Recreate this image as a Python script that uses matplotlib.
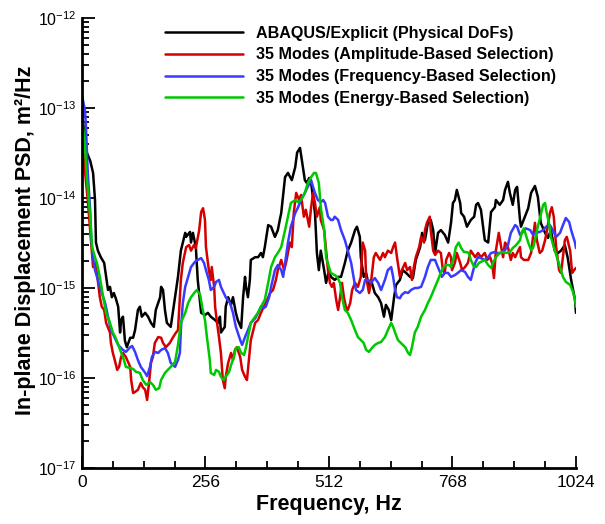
"""
psd_compare.py — In-plane displacement PSD: physical DoFs vs. 35-mode reduced models.
"""

import numpy as np
import matplotlib
matplotlib.use('Agg')
import matplotlib.pyplot as plt
from matplotlib.ticker import FixedLocator, MultipleLocator, LogFormatterMathtext, NullFormatter

plt.rcParams['font.family'] = ['Liberation Sans', 'DejaVu Sans']
plt.rcParams['mathtext.default'] = 'regular'

# ── PSD data (Hz, m^2/Hz) ─────────────────────────────────────────────────────
freq_abaqus = [
    0, 8, 17, 23, 27, 29, 33, 39, 46, 50, 54, 58, 62, 66, 70, 75, 79, 81, 85, 89,
    93, 100, 106, 110, 116, 120, 124, 131, 137, 143, 149, 153, 162, 164, 168, 172, 176, 184, 193, 199,
    205, 214, 216, 224, 226, 230, 236, 240, 247, 255, 261, 267, 276, 282, 286, 288, 296, 298, 303, 309,
    313, 319, 323, 330, 334, 338, 340, 344, 348, 350, 359, 365, 371, 375, 379, 386, 392, 400, 406, 410,
    413, 421, 427, 435, 442, 446, 452, 456, 462, 466, 471, 475, 483, 487, 491, 495, 502, 506, 512, 516,
    524, 531, 537, 545, 551, 558, 566, 570, 576, 578, 584, 589, 595, 599, 607, 614, 620, 626, 630, 636,
    641, 647, 651, 659, 665, 672, 680, 686, 692, 701, 705, 711, 717, 723, 728, 732, 738, 744, 752, 759,
    765, 769, 773, 777, 784, 786, 792, 798, 806, 813, 817, 821, 827, 835, 842, 848, 856, 858, 866, 873,
    877, 883, 887, 893, 898, 902, 908, 910, 918, 925, 931, 939, 945, 951, 960, 966, 972, 980, 987, 993,
    1001, 1007, 1014, 1022, 1024,
]
psd_abaqus = [
    9.5e-14, 3.4e-14, 2.6e-14, 1.9e-14, 9.5e-15, 3.2e-15, 2.6e-15, 2.2e-15, 1.9e-15, 1.33e-15,
    9.5e-16, 1.03e-15, 7.9e-16, 8.8e-16, 7.7e-16, 6.2e-16, 3.2e-16, 4.4e-16, 4.8e-16, 2.6e-16,
    2.2e-16, 2.8e-16, 2.8e-16, 3.4e-16, 5.7e-16, 6.2e-16, 4.8e-16, 5.3e-16, 4.8e-16, 4.1e-16,
    3.7e-16, 5.7e-16, 7.9e-16, 1.03e-15, 9.5e-16, 5.7e-16, 4.1e-16, 3.7e-16, 7.9e-16, 1.33e-15,
    2.6e-15, 4.1e-15, 3.7e-15, 4.2e-15, 3.2e-15, 4.1e-15, 2.85e-15, 1.23e-15, 5.3e-16, 5.0e-16,
    5.3e-16, 4.8e-16, 4.4e-16, 4.1e-16, 4.8e-16, 3.2e-16, 3.7e-16, 6.2e-16, 7.9e-16, 6.5e-16,
    7.9e-16, 5.3e-16, 4.4e-16, 3.6e-16, 7.9e-16, 1.33e-15, 1.03e-15, 7.9e-16, 1.23e-15, 2.05e-15,
    2.2e-15, 2.2e-15, 2.45e-15, 2.2e-15, 2.85e-15, 5.0e-15, 4.8e-15, 3.7e-15, 4.4e-15, 5.7e-15,
    6.8e-15, 1.71e-14, 1.9e-14, 1.58e-14, 2.2e-14, 3.2e-14, 3.6e-14, 2.6e-14, 1.58e-14, 1.47e-14,
    1.67e-14, 1.47e-14, 6.8e-15, 2.45e-15, 1.58e-15, 2.6e-15, 1.58e-15, 1.14e-15, 1.58e-15, 1.33e-15,
    1.23e-15, 1.33e-15, 1.33e-15, 1.9e-15, 2.6e-15, 3.2e-15, 4.4e-15, 4.8e-15, 3.7e-15, 2.2e-15,
    1.33e-15, 1.47e-15, 1.03e-15, 1.23e-15, 8.8e-16, 7.9e-16, 6.8e-16, 4.8e-16, 6.5e-16, 5.7e-16,
    4.4e-16, 7.9e-16, 1.08e-15, 1.23e-15, 1.58e-15, 1.47e-15, 1.33e-15, 1.29e-15, 2.05e-15, 2.85e-15,
    4.1e-15, 3.4e-15, 5.3e-15, 5.7e-15, 4.4e-15, 2.45e-15, 4.1e-15, 4.4e-15, 3.9e-15, 3.2e-15,
    5.3e-15, 8.8e-15, 9.5e-15, 1.23e-14, 8.8e-15, 6.8e-15, 6.2e-15, 4.8e-15, 5.7e-15, 6.2e-15,
    8.4e-15, 8.8e-15, 7.4e-15, 3.4e-15, 3.2e-15, 7.0e-15, 7.9e-15, 9.5e-15, 8.4e-15, 9.5e-15,
    1.23e-14, 1.51e-14, 1.14e-14, 8.4e-15, 1.23e-14, 1.33e-14, 5.7e-15, 4.8e-15, 6.2e-15, 7.7e-15,
    1.14e-14, 1.36e-14, 1.03e-14, 5.3e-15, 4.1e-15, 3.6e-15, 4.4e-15, 2.6e-15, 2.45e-15, 2.6e-15,
    3.0e-15, 2.15e-15, 1.23e-15, 7.4e-16, 5.3e-16,
]

freq_amplitude = [
    0, 6, 12, 19, 23, 27, 31, 37, 41, 46, 50, 58, 60, 64, 68, 73, 77, 81, 85, 91,
    100, 102, 106, 110, 116, 122, 126, 131, 135, 139, 143, 147, 151, 158, 164, 168, 174, 182, 189, 195,
    199, 205, 209, 216, 222, 226, 232, 236, 243, 247, 251, 255, 257, 263, 267, 269, 274, 276, 280, 284,
    288, 292, 296, 298, 303, 309, 313, 317, 321, 328, 332, 338, 342, 346, 350, 354, 359, 365, 371, 377,
    381, 390, 396, 402, 406, 413, 419, 423, 431, 435, 439, 444, 450, 454, 460, 464, 471, 475, 479, 483,
    487, 493, 495, 502, 506, 510, 514, 518, 522, 527, 531, 535, 539, 543, 547, 551, 556, 560, 566, 572,
    578, 582, 587, 589, 595, 599, 605, 609, 618, 624, 628, 634, 641, 645, 649, 653, 659, 663, 670, 674,
    680, 684, 688, 692, 699, 703, 709, 711, 715, 721, 723, 728, 732, 738, 744, 748, 752, 755, 761, 765,
    767, 773, 777, 784, 788, 794, 800, 806, 815, 821, 827, 835, 840, 846, 850, 854, 858, 864, 869, 873,
    877, 883, 889, 893, 898, 902, 908, 910, 916, 925, 931, 935, 939, 943, 949, 954, 960, 964, 970, 974,
    978, 983, 989, 993, 997, 1001, 1005, 1012, 1016, 1020, 1024,
]
psd_amplitude = [
    4.4e-14, 2.05e-14, 9.5e-15, 3.2e-15, 1.71e-15, 1.9e-15, 1.47e-15, 7.9e-16, 6.2e-16, 5.7e-16,
    4.1e-16, 3.2e-16, 2.45e-16, 1.9e-16, 1.58e-16, 1.23e-16, 1.33e-16, 1.71e-16, 1.9e-16, 1.71e-16,
    1.33e-16, 9.5e-17, 6.8e-17, 7.0e-17, 7.4e-17, 8.8e-17, 7.9e-17, 7.4e-17, 5.7e-17, 8.8e-17,
    1.47e-16, 1.71e-16, 2.45e-16, 2.85e-16, 2.8e-16, 2.45e-16, 2.2e-16, 2.45e-16, 2.85e-16, 3.2e-16,
    3.4e-16, 1.23e-15, 1.9e-15, 2.85e-15, 3.0e-15, 2.6e-15, 3.0e-15, 2.78e-15, 4.4e-15, 7.0e-15,
    7.7e-15, 5.7e-15, 2.85e-15, 1.58e-15, 1.23e-15, 1.71e-15, 1.03e-15, 6.2e-16, 4.1e-16, 2.85e-16,
    1.9e-16, 9.5e-17, 7.7e-17, 1.03e-16, 1.47e-16, 1.9e-16, 1.58e-16, 2.05e-16, 2.2e-16, 1.71e-16,
    1.23e-16, 1.03e-16, 9.5e-17, 1.58e-16, 2.64e-16, 3.2e-16, 4.1e-16, 4.4e-16, 5.3e-16, 6.2e-16,
    6.8e-16, 8.8e-16, 9.5e-16, 1.23e-15, 1.58e-15, 2.05e-15, 1.58e-15, 1.9e-15, 3.2e-15, 2.85e-15,
    6.8e-15, 1.14e-14, 9.5e-15, 1.08e-14, 6.2e-15, 7.4e-15, 4.8e-15, 7.9e-15, 1.14e-14, 8.8e-15,
    6.2e-15, 7.9e-15, 5.7e-15, 4.4e-15, 2.6e-15, 1.58e-15, 1.14e-15, 1.03e-15, 1.14e-15, 7.4e-16,
    5.7e-16, 7.9e-16, 1.14e-15, 7.9e-16, 6.2e-16, 5.7e-16, 6.8e-16, 9.5e-16, 1.14e-15, 1.03e-15,
    1.33e-15, 3.2e-15, 2.6e-15, 1.33e-15, 8.8e-16, 1.14e-15, 2.2e-15, 2.45e-15, 2.05e-15, 2.45e-15,
    2.2e-15, 2.6e-15, 2.45e-15, 2.85e-15, 3.2e-15, 2.2e-15, 1.33e-15, 1.58e-15, 1.9e-15, 1.58e-15,
    1.71e-15, 1.23e-15, 1.71e-15, 2.2e-15, 2.85e-15, 3.7e-15, 3.2e-15, 4.4e-15, 5.3e-15, 6.2e-15,
    4.4e-15, 2.6e-15, 2.33e-15, 2.6e-15, 2.45e-15, 1.58e-15, 1.47e-15, 2.05e-15, 2.45e-15, 2.2e-15,
    1.58e-15, 1.9e-15, 2.45e-15, 1.9e-15, 1.58e-15, 1.71e-15, 1.9e-15, 2.6e-15, 2.2e-15, 2.45e-15,
    2.2e-15, 2.45e-15, 2.05e-15, 2.2e-15, 1.9e-15, 1.29e-15, 2.6e-15, 4.1e-15, 2.85e-15, 2.2e-15,
    3.2e-15, 2.85e-15, 2.05e-15, 2.45e-15, 2.2e-15, 2.45e-15, 2.85e-15, 2.2e-15, 2.05e-15, 2.05e-15,
    2.45e-15, 3.7e-15, 5.3e-15, 3.4e-15, 2.45e-15, 2.6e-15, 3.4e-15, 4.4e-15, 6.8e-15, 7.9e-15,
    6.2e-15, 2.85e-15, 1.58e-15, 1.47e-15, 2.2e-15, 3.4e-15, 3.7e-15, 2.6e-15, 1.47e-15, 1.58e-15,
    1.67e-15,
]

freq_frequency = [
    0, 6, 8, 12, 17, 19, 23, 27, 33, 39, 48, 54, 60, 68, 75, 85, 91, 100, 104, 110,
    116, 122, 131, 135, 141, 145, 151, 158, 164, 172, 178, 184, 193, 199, 203, 205, 209, 214, 220, 226,
    234, 240, 247, 253, 257, 263, 267, 274, 278, 284, 288, 294, 298, 307, 313, 319, 328, 332, 338, 344,
    350, 359, 365, 371, 377, 381, 388, 392, 400, 406, 413, 417, 421, 427, 433, 442, 448, 454, 462, 468,
    475, 479, 483, 489, 495, 500, 504, 510, 516, 520, 524, 531, 537, 545, 551, 558, 564, 568, 576, 582,
    587, 593, 599, 607, 614, 620, 628, 634, 641, 645, 649, 653, 659, 663, 670, 676, 682, 690, 696, 703,
    711, 717, 723, 732, 736, 742, 746, 752, 759, 765, 773, 779, 786, 794, 800, 806, 815, 821, 827, 835,
    842, 848, 856, 862, 869, 877, 883, 889, 898, 902, 908, 914, 920, 929, 935, 941, 949, 956, 962, 970,
    976, 983, 991, 997, 1003, 1010, 1014, 1022, 1024,
]
psd_frequency = [
    1.39e-13, 9.5e-14, 6.8e-14, 1.9e-14, 7.4e-15, 3.7e-15, 2.2e-15, 1.58e-15, 1.23e-15, 9.5e-16,
    6.8e-16, 4.8e-16, 3.4e-16, 2.8e-16, 2.33e-16, 2.05e-16, 1.95e-16, 2.2e-16, 2.27e-16, 1.95e-16,
    1.58e-16, 1.33e-16, 1.14e-16, 1.05e-16, 1.33e-16, 1.71e-16, 1.95e-16, 1.9e-16, 2.05e-16, 2.15e-16,
    1.9e-16, 1.47e-16, 1.33e-16, 1.58e-16, 1.9e-16, 3.4e-16, 6.8e-16, 1.03e-15, 1.33e-15, 1.71e-15,
    1.95e-15, 2.05e-15, 2.15e-15, 1.9e-15, 1.58e-15, 1.23e-15, 9.5e-16, 1.03e-15, 1.17e-15, 1.23e-15,
    1.03e-15, 8.8e-16, 7.9e-16, 6.8e-16, 5.3e-16, 3.7e-16, 2.64e-16, 2.33e-16, 2.85e-16, 3.4e-16,
    4.1e-16, 4.6e-16, 5.3e-16, 6.2e-16, 6.0e-16, 6.2e-16, 7.9e-16, 1.03e-15, 1.58e-15, 1.8e-15,
    1.58e-15, 1.33e-15, 1.9e-15, 3.2e-15, 4.8e-15, 6.8e-15, 7.9e-15, 9.5e-15, 1.14e-14, 1.33e-14,
    1.58e-14, 1.33e-14, 1.14e-14, 9.5e-15, 9.0e-15, 9.5e-15, 8.8e-15, 6.2e-15, 5.7e-15, 5.7e-15,
    6.2e-15, 5.7e-15, 4.4e-15, 3.4e-15, 2.6e-15, 1.9e-15, 1.23e-15, 9.5e-16, 8.8e-16, 9.5e-16,
    1.23e-15, 1.23e-15, 1.14e-15, 1.29e-15, 1.14e-15, 9.5e-16, 1.23e-15, 1.58e-15, 1.71e-15, 1.33e-15,
    9.5e-16, 7.9e-16, 7.7e-16, 8.4e-16, 9.0e-16, 8.8e-16, 9.5e-16, 1.0e-15, 1.0e-15, 1.03e-15,
    1.33e-15, 1.71e-15, 2.05e-15, 2.05e-15, 1.8e-15, 1.51e-15, 1.33e-15, 1.47e-15, 1.47e-15, 1.33e-15,
    1.39e-15, 1.47e-15, 1.58e-15, 1.51e-15, 1.33e-15, 1.23e-15, 1.9e-15, 2.2e-15, 2.15e-15, 2.05e-15,
    2.2e-15, 2.45e-15, 2.51e-15, 2.45e-15, 2.45e-15, 2.64e-15, 3.0e-15, 4.1e-15, 5.0e-15, 4.8e-15,
    3.9e-15, 4.2e-15, 4.6e-15, 4.4e-15, 3.9e-15, 4.1e-15, 4.2e-15, 4.4e-15, 4.8e-15, 5.0e-15,
    4.4e-15, 3.7e-15, 4.1e-15, 5.0e-15, 6.0e-15, 5.4e-15, 4.4e-15, 3.2e-15, 2.78e-15,
]

freq_energy = [
    0, 2, 6, 10, 17, 21, 27, 31, 37, 44, 50, 58, 64, 70, 79, 85, 91, 100, 106, 112,
    120, 126, 133, 141, 147, 153, 160, 164, 172, 178, 184, 193, 199, 205, 214, 220, 226, 234, 238, 245,
    249, 255, 259, 265, 267, 274, 278, 284, 288, 294, 298, 305, 309, 315, 319, 325, 330, 336, 340, 346,
    350, 359, 365, 371, 379, 386, 392, 400, 406, 413, 421, 427, 433, 442, 448, 454, 462, 468, 475, 481,
    485, 491, 495, 502, 506, 512, 516, 524, 529, 535, 539, 545, 551, 558, 566, 572, 578, 584, 589, 595,
    601, 607, 614, 620, 628, 634, 641, 645, 649, 655, 661, 670, 676, 680, 684, 690, 696, 703, 711, 717,
    723, 732, 738, 744, 750, 755, 761, 765, 771, 775, 781, 786, 792, 796, 802, 806, 813, 817, 823, 827,
    835, 842, 848, 852, 858, 866, 873, 879, 887, 893, 900, 908, 912, 916, 920, 925, 931, 935, 939, 945,
    951, 956, 960, 962, 968, 972, 978, 983, 991, 997, 1003, 1012, 1018, 1022, 1024,
]
psd_energy = [
    9.0e-14, 6.2e-14, 4.1e-14, 1.71e-14, 6.2e-15, 2.85e-15, 2.2e-15, 1.9e-15, 1.33e-15, 7.9e-16,
    5.3e-16, 4.1e-16, 3.2e-16, 2.78e-16, 2.05e-16, 1.71e-16, 1.33e-16, 1.29e-16, 1.26e-16, 1.17e-16,
    1.14e-16, 9.5e-17, 8.4e-17, 9.0e-17, 8.4e-17, 7.4e-17, 7.7e-17, 9.5e-17, 1.14e-16, 1.23e-16,
    1.33e-16, 1.51e-16, 2.33e-16, 4.1e-16, 5.3e-16, 6.8e-16, 7.9e-16, 9.0e-16, 9.5e-16, 8.4e-16,
    6.2e-16, 4.4e-16, 2.85e-16, 1.58e-16, 1.14e-16, 1.08e-16, 1.23e-16, 1.17e-16, 1.03e-16, 9.5e-17,
    1.03e-16, 1.17e-16, 1.39e-16, 1.71e-16, 2.15e-16, 2.2e-16, 1.9e-16, 1.8e-16, 2.2e-16, 3.2e-16,
    4.1e-16, 4.8e-16, 5.3e-16, 6.2e-16, 7.4e-16, 1.14e-15, 1.71e-15, 2.2e-15, 2.45e-15, 2.85e-15,
    4.4e-15, 6.2e-15, 8.8e-15, 9.5e-15, 9.0e-15, 9.5e-15, 1.14e-14, 1.47e-14, 1.71e-14, 1.9e-14,
    1.9e-14, 1.47e-14, 7.9e-15, 4.4e-15, 2.2e-15, 1.71e-15, 1.47e-15, 1.39e-15, 1.33e-15, 1.14e-15,
    7.9e-16, 5.7e-16, 5.3e-16, 4.4e-16, 3.4e-16, 2.85e-16, 2.64e-16, 2.45e-16, 2.05e-16, 1.95e-16,
    2.15e-16, 2.33e-16, 2.45e-16, 2.51e-16, 2.85e-16, 3.4e-16, 4.1e-16, 3.7e-16, 3.2e-16, 2.64e-16,
    2.45e-16, 2.2e-16, 1.9e-16, 1.8e-16, 2.2e-16, 3.2e-16, 3.7e-16, 4.8e-16, 5.7e-16, 6.8e-16,
    7.9e-16, 1.03e-15, 1.23e-15, 1.47e-15, 1.71e-15, 1.8e-15, 1.8e-15, 1.71e-15, 2.2e-15, 2.85e-15,
    3.2e-15, 2.78e-15, 2.51e-15, 2.51e-15, 2.45e-15, 2.05e-15, 1.71e-15, 1.71e-15, 1.9e-15, 1.95e-15,
    2.05e-15, 1.8e-15, 1.67e-15, 1.9e-15, 2.2e-15, 2.45e-15, 2.51e-15, 2.45e-15, 2.51e-15, 2.78e-15,
    3.0e-15, 3.4e-15, 4.2e-15, 4.6e-15, 3.9e-15, 3.2e-15, 2.64e-15, 2.78e-15, 3.4e-15, 4.8e-15,
    6.5e-15, 8.4e-15, 8.8e-15, 7.4e-15, 5.3e-15, 3.7e-15, 2.85e-15, 2.33e-15, 1.71e-15, 1.33e-15,
    1.17e-15, 1.08e-15, 9.0e-16, 7.4e-16, 6.2e-16,
]

series = [
    (freq_abaqus, psd_abaqus, 'black', 'ABAQUS/Explicit (Physical DoFs)'),
    (freq_amplitude, psd_amplitude, '#d40000', '35 Modes (Amplitude-Based Selection)'),
    (freq_frequency, psd_frequency, '#3a3aff', '35 Modes (Frequency-Based Selection)'),
    (freq_energy, psd_energy, '#00c800', '35 Modes (Energy-Based Selection)'),
]

# ── Figure ────────────────────────────────────────────────────────────────────
fig = plt.figure(figsize=(6.05, 5.24), dpi=100)
ax = fig.add_axes([0.1355, 0.1069, 0.8165, 0.8587])

for f, p, c, lab in series:
    ax.plot(f, p, color=c, lw=1.8, label=lab,
            solid_joinstyle='round', solid_capstyle='round')

ax.set_yscale('log')
ax.set_xlim(0, 1024)
ax.set_ylim(1e-17, 1e-12)

# decade ticks only inside the plotted range
decades = np.arange(-17, -11)
major_y = 10.0 ** decades
minor_y = [m * 10.0 ** d for d in decades[:-1] for m in range(2, 10)]

ax.xaxis.set_major_locator(MultipleLocator(256))
ax.xaxis.set_minor_locator(MultipleLocator(64))
ax.yaxis.set_major_locator(FixedLocator(major_y))
ax.yaxis.set_major_formatter(LogFormatterMathtext())
ax.yaxis.set_minor_locator(FixedLocator(minor_y))
ax.yaxis.set_minor_formatter(NullFormatter())

ax.tick_params(which='both', direction='in', width=1.3)
ax.tick_params(which='major', length=9)
ax.tick_params(which='minor', length=5)
ax.tick_params(axis='x', pad=5, labelsize=12.5)
ax.tick_params(axis='y', pad=4, labelsize=11.5)

for side in ('top', 'right'):
    ax.spines[side].set_visible(False)
for side in ('left', 'bottom'):
    ax.spines[side].set_linewidth(2)

ax.set_xlabel('Frequency, Hz', fontsize=15.5, fontweight='bold', labelpad=3)
ax.set_ylabel('In-plane Displacement PSD, m²/Hz', fontsize=15.5, fontweight='bold')
ax.yaxis.set_label_coords(-0.094, 0.505)

leg = ax.legend(loc='upper left', bbox_to_anchor=(0.168, 0.983), frameon=False,
                prop={'weight': 'bold', 'size': 11.6}, handlelength=4.85,
                handletextpad=0.8, labelspacing=0.42, borderaxespad=0,
                borderpad=0)

fig.savefig('out.png', dpi=100)
